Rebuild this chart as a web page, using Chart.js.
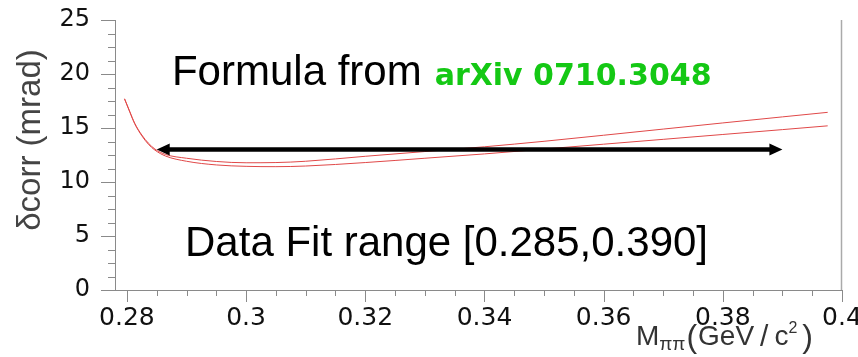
<!DOCTYPE html>
<html>
<head>
<meta charset="utf-8">
<script src="https://cdn.jsdelivr.net/npm/chart.js@4"></script>
<style>
  html, body { margin: 0; padding: 0; background: #fff; }
  #plot { display: block; }
</style>
</head>
<body>
<canvas id="plot" width="858" height="357"></canvas>
<script>
// δcorr vs M_ππ, two variants of the correction formula
const massA = [0.2796, 0.2805, 0.2813, 0.2825, 0.2836, 0.2847, 0.2865, 0.2900, 0.2950, 0.3000, 0.3050,
  0.3100, 0.3200, 0.3300, 0.3400, 0.3500, 0.3600, 0.3700, 0.3800, 0.3900, 0.3976];
const corrA = [17.7, 16.5, 15.45, 14.35, 13.6, 13.05, 12.55, 12.2, 11.9, 11.78, 11.8,
  11.92, 12.38, 12.82, 13.26, 13.77, 14.33, 14.9, 15.47, 16.03, 16.45];

const massB = [0.2796, 0.2805, 0.2813, 0.2825, 0.2836, 0.2847, 0.2865, 0.2900, 0.2950, 0.3000, 0.3050,
  0.3100, 0.3200, 0.3300, 0.3400, 0.3500, 0.3600, 0.3700, 0.3800, 0.3900, 0.3976];
const corrB = [17.7, 16.45, 15.4, 14.28, 13.5, 12.95, 12.4, 11.92, 11.58, 11.45, 11.42,
  11.48, 11.8, 12.2, 12.6, 13.05, 13.5, 13.95, 14.4, 14.85, 15.2];

const xTicks = [0.28, 0.30, 0.32, 0.34, 0.36, 0.38, 0.40];
const yTicks = [0, 5, 10, 15, 20, 25];

// fit window drawn as a double arrow
const fitRange = [0.285, 0.390];
const fitLevel = 13;

const AXIS_GREY = '#8a8a8a';
const CURVE_RED = '#e04848';
const LABEL_GREEN = '#14c814';
const SANS = '"Liberation Sans", Arial, sans-serif';
const WIDE = '"DejaVu Sans", sans-serif';

const toPoints = (xs, ys) => xs.map((x, i) => ({ x, y: ys[i] }));

// outward major/minor tick marks and the right frame edge
const axisTicks = {
  id: 'axisTicks',
  afterDraw(chart) {
    const { ctx, chartArea: a, scales: { x, y } } = chart;
    ctx.save();
    ctx.strokeStyle = AXIS_GREY;
    ctx.lineWidth = 1;
    ctx.beginPath();
    for (let k = Math.ceil(x.min / 0.005 - 1e-9); k * 0.005 <= x.max + 1e-9; k++) {
      const px = Math.round(x.getPixelForValue(k * 0.005)) + 0.5;
      const len = k % 4 === 0 ? 12 : 6;
      ctx.moveTo(px, a.bottom);
      ctx.lineTo(px, a.bottom + len);
    }
    for (let k = Math.ceil(y.min / 1.25 - 1e-9); k * 1.25 <= y.max + 1e-9; k++) {
      const py = Math.round(y.getPixelForValue(k * 1.25)) + 0.5;
      const len = k % 4 === 0 ? 14 : 7;
      ctx.moveTo(a.left, py);
      ctx.lineTo(a.left - len, py);
    }
    ctx.stroke();
    ctx.strokeStyle = '#aaa';
    ctx.lineWidth = 1.5;
    ctx.beginPath();
    ctx.moveTo(a.right - 0.5, a.top);
    ctx.lineTo(a.right - 0.5, a.bottom);
    ctx.stroke();
    ctx.restore();
  }
};

const fitArrow = {
  id: 'fitArrow',
  afterDatasetsDraw(chart) {
    const { ctx, scales: { x, y } } = chart;
    const x0 = x.getPixelForValue(fitRange[0]);
    const x1 = x.getPixelForValue(fitRange[1]);
    const yy = y.getPixelForValue(fitLevel);
    const head = 13, half = 6;
    ctx.save();
    ctx.strokeStyle = '#000';
    ctx.fillStyle = '#000';
    ctx.lineWidth = 4.5;
    ctx.beginPath();
    ctx.moveTo(x0 + head - 1, yy);
    ctx.lineTo(x1 - head + 1, yy);
    ctx.stroke();
    ctx.beginPath();
    ctx.moveTo(x0, yy);
    ctx.lineTo(x0 + head, yy - half);
    ctx.lineTo(x0 + head, yy + half);
    ctx.closePath();
    ctx.moveTo(x1, yy);
    ctx.lineTo(x1 - head, yy - half);
    ctx.lineTo(x1 - head, yy + half);
    ctx.closePath();
    ctx.fill();
    ctx.restore();
  }
};

// free text plus both axis titles
const labels = {
  id: 'labels',
  afterDraw(chart) {
    const { ctx, chartArea: a, scales: { x, y } } = chart;
    ctx.save();
    ctx.textBaseline = 'alphabetic';
    ctx.textAlign = 'left';

    let tx = x.getPixelForValue(0.28756);
    let ty = y.getPixelForValue(18.98);
    ctx.fillStyle = '#000';
    ctx.font = '42px ' + SANS;
    ctx.fillText('Formula from', tx, ty);
    tx += ctx.measureText('Formula from').width + 13;
    ctx.fillStyle = LABEL_GREEN;
    ctx.font = 'bold 30px ' + WIDE;
    ctx.fillText('arXiv 0710.3048', tx, ty);

    ctx.fillStyle = '#000';
    ctx.font = '42px ' + SANS;
    ctx.fillText('Data Fit range [0.285,0.390]', x.getPixelForValue(0.28975), y.getPixelForValue(3.15));

    // y title
    ctx.save();
    ctx.translate(31, a.top + 120);
    ctx.rotate(-Math.PI / 2);
    ctx.textAlign = 'center';
    ctx.textBaseline = 'middle';
    ctx.fillStyle = '#444';
    ctx.font = '33px ' + SANS;
    ctx.fillText('δcorr (mrad)', 0, 0);
    ctx.restore();

    // x title: M_ππ(GeV / c²), right aligned under the axis
    const parts = [
      { t: 'M', f: '28px ' + SANS, dy: 0, gap: 0 },
      { t: 'ππ', f: '19px ' + SANS, dy: 5, gap: 1 },
      { t: '(', f: '32px ' + SANS, dy: 2, gap: 1 },
      { t: 'GeV', f: '28px ' + SANS, dy: 0, gap: 6 },
      { t: '/', f: '30px ' + SANS, dy: 1, gap: 6 },
      { t: 'c', f: '28px ' + SANS, dy: 0, gap: 0 },
      { t: '2', f: '16px ' + SANS, dy: -12, gap: 5 },
      { t: ')', f: '32px ' + SANS, dy: 2, gap: 0 }
    ];
    let total = 0;
    for (const p of parts) {
      ctx.font = p.f;
      p.w = ctx.measureText(p.t).width;
      total += p.w + p.gap;
    }
    let cx = a.right - 29 - total;
    const base = a.bottom + 55;
    ctx.fillStyle = '#333';
    for (const p of parts) {
      ctx.font = p.f;
      ctx.fillText(p.t, cx, base + p.dy);
      cx += p.w + p.gap;
    }
    ctx.restore();
  }
};

const curveStyle = {
  borderColor: CURVE_RED,
  borderWidth: 1,
  pointRadius: 0,
  fill: false,
  cubicInterpolationMode: 'monotone'
};

new Chart(document.getElementById('plot'), {
  type: 'line',
  data: {
    datasets: [
      { ...curveStyle, data: toPoints(massA, corrA) },
      { ...curveStyle, data: toPoints(massB, corrB) }
    ]
  },
  options: {
    responsive: false,
    animation: false,
    devicePixelRatio: 1,
    layout: { padding: { left: 0, right: 16, top: 20, bottom: 0 } },
    plugins: { legend: { display: false }, tooltip: { enabled: false } },
    scales: {
      x: {
        type: 'linear',
        min: 0.278,
        max: 0.4,
        afterBuildTicks: (s) => { s.ticks = xTicks.map((v) => ({ value: v })); },
        afterFit: (s) => { s.height = 67; s.paddingLeft = 0; s.paddingRight = 0; },
        grid: { display: false },
        border: { display: true, color: AXIS_GREY, width: 1 },
        ticks: {
          autoSkip: false,
          maxRotation: 0,
          padding: 5,
          color: '#111',
          font: { family: WIDE, size: 25 },
          callback: (v) => String(+v.toFixed(2))
        }
      },
      y: {
        type: 'linear',
        min: 0,
        max: 25,
        afterBuildTicks: (s) => { s.ticks = yTicks.map((v) => ({ value: v })); },
        afterFit: (s) => { s.width = 115; s.paddingTop = 0; s.paddingBottom = 0; },
        grid: { display: false },
        border: { display: true, color: AXIS_GREY, width: 1 },
        ticks: {
          padding: 17,
          color: '#111',
          font: { family: WIDE, size: 24 }
        }
      }
    }
  },
  plugins: [axisTicks, fitArrow, labels]
});
</script>
</body>
</html>
